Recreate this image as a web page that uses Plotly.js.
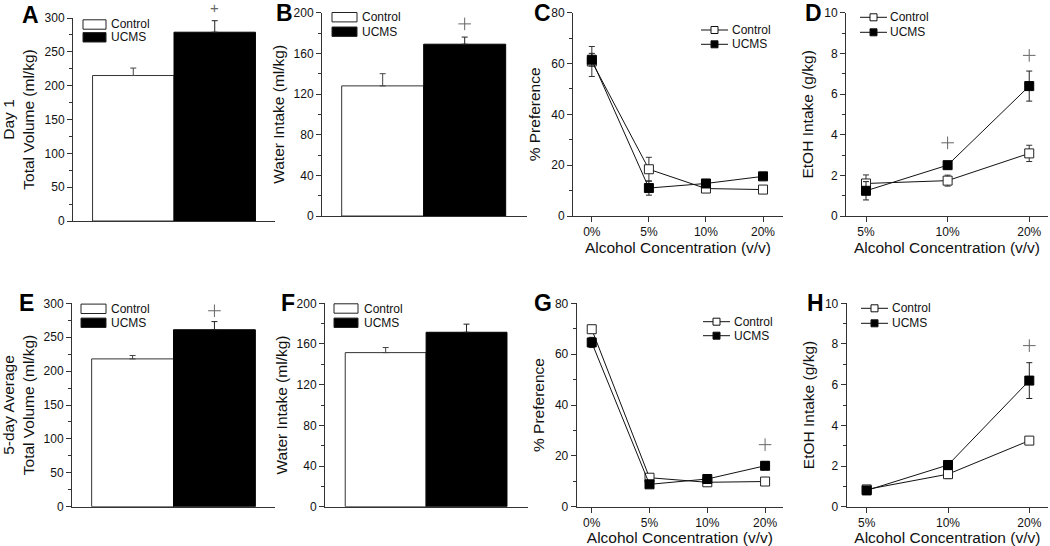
<!DOCTYPE html>
<html>
<head>
<meta charset="utf-8">
<script src="https://cdn.plot.ly/plotly-3.0.1.min.js"></script>
<style>html,body{margin:0;padding:0;background:#fff;}#chart{width:1050px;height:546px;}</style>
</head>
<body>
<div id="chart"></div>
<script>
// ---------- data ----------
const groups = ['Control', 'UCMS'];
const concPref = ['0%', '5%', '10%', '20%'];
const concEtoh = ['5%', '10%', '20%'];

// Day 1
const day1TotalVolume = [215, 279];
const day1TotalVolumeErr = [11, 17];
const day1WaterIntake = [128, 169];
const day1WaterIntakeErr = [12, 7];
const day1PrefControl = [60.8, 18.4, 10.8, 10.4];
const day1PrefControlErr = [5.9, 4.7, 1.5, 1.2];
const day1PrefUCMS = [61.5, 11.0, 12.8, 15.6];
const day1PrefUCMSErr = [2.5, 2.8, 1.2, 1.0];
const day1EtohControl = [1.60, 1.74, 3.08];
const day1EtohControlErr = [0.42, 0.27, 0.40];
const day1EtohUCMS = [1.24, 2.50, 6.39];
const day1EtohUCMSErr = [0.45, 0.15, 0.74];

// 5-day average
const avgTotalVolume = [218, 261];
const avgTotalVolumeErr = [5, 12];
const avgWaterIntake = [151.5, 171.5];
const avgWaterIntakeErr = [5, 8];
const avgPrefControl = [69.8, 11.4, 9.6, 9.9];
const avgPrefControlErr = [1.5, 1.0, 1.0, 1.5];
const avgPrefUCMS = [64.6, 8.8, 10.9, 16.1];
const avgPrefUCMSErr = [2.0, 1.2, 1.2, 1.5];
const avgEtohControl = [0.85, 1.60, 3.25];
const avgEtohControlErr = [0.15, 0.22, 0.15];
const avgEtohUCMS = [0.80, 2.05, 6.20];
const avgEtohUCMSErr = [0.15, 0.12, 0.88];

// significance marks (+)
const sigA_x = ['UCMS'], sigA_y = [316];
const sigB_x = ['UCMS'], sigB_y = [189];
const sigD_x = ['10%', '20%'], sigD_y = [3.6, 7.9];
const sigE_x = ['UCMS'], sigE_y = [289];
const sigG_x = ['20%'], sigG_y = [24.4];
const sigH_x = ['20%'], sigH_y = [7.92];

const panelLetters = ['A', 'B', 'C', 'D', 'E', 'F', 'G', 'H'];

// ---------- styling / layout ----------
const W = 1050, H = 546;
const FONT = 'Liberation Sans, Arial, sans-serif';
const AX = '#333';
const px = (a, b) => [a / W, b / W];
const py = (top, bot) => [1 - bot / H, 1 - top / H];

// leg: [glyph left, glyph right, text left, row1 centre y, row2 centre y] in pixels
const panels = [
  {kind: 'bar', xd: px(73, 275), yd: py(18, 221), xr: [-0.74, 1.74], yr: [0, 300], dt: 50, mdt: 25,
   vals: day1TotalVolume, errs: day1TotalVolumeErr, sx: sigA_x, sy: sigA_y,
   title: 'Day 1<br>Total Volume (ml/kg)', standoff: 8, leg: [83, 106, 109, 24.5, 37.3], letter: [30, 15]},
  {kind: 'bar', xd: px(322, 527), yd: py(12.7, 216), xr: [-0.74, 1.76], yr: [0, 200], dt: 40, mdt: 20,
   vals: day1WaterIntake, errs: day1WaterIntakeErr, sx: sigB_x, sy: sigB_y,
   title: 'Water Intake (ml/kg)', standoff: 5, leg: [332, 357, 359.5, 17.2, 31.7], letter: [284, 13]},
  {kind: 'line', cats: concPref, xd: px(573, 783), yd: py(12.7, 216), xr: [-0.33, 3.35], yr: [0, 80], dt: 20, mdt: 10,
   c: day1PrefControl, ce: day1PrefControlErr, u: day1PrefUCMS, ue: day1PrefUCMSErr, sx: [], sy: [],
   title: '% Preference', standoff: 6, leg: [701, 728, 729.5, 30, 44.3], letter: [542, 13]},
  {kind: 'line', cats: concEtoh, xd: px(846, 1048), yd: py(12.7, 216), xr: [-0.245, 2.23], yr: [0, 10], dt: 2, mdt: 1,
   c: day1EtohControl, ce: day1EtohControlErr, u: day1EtohUCMS, ue: day1EtohUCMSErr, sx: sigD_x, sy: sigD_y,
   title: 'EtOH Intake (g/kg)', standoff: 6, leg: [860, 887, 888, 17.3, 32.3], letter: [813, 13]},
  {kind: 'bar', xd: px(72, 275), yd: py(303.3, 506.7), xr: [-0.74, 1.74], yr: [0, 300], dt: 50, mdt: 25,
   vals: avgTotalVolume, errs: avgTotalVolumeErr, sx: sigE_x, sy: sigE_y,
   title: '5-day Average<br>Total Volume (ml/kg)', standoff: 8, leg: [81, 106, 108.5, 308.8, 322.8], letter: [26, 303]},
  {kind: 'bar', xd: px(325, 528), yd: py(303.3, 506.7), xr: [-0.75, 1.76], yr: [0, 200], dt: 40, mdt: 20,
   vals: avgWaterIntake, errs: avgWaterIntakeErr, sx: [], sy: [],
   title: 'Water Intake (ml/kg)', standoff: 5, leg: [334, 358, 362, 308.5, 322.8], letter: [288, 303]},
  {kind: 'line', cats: concPref, xd: px(576.7, 783), yd: py(303.3, 506.7), xr: [-0.26, 3.31], yr: [0, 80], dt: 20, mdt: 10,
   c: avgPrefControl, ce: avgPrefControlErr, u: avgPrefUCMS, ue: avgPrefUCMSErr, sx: sigG_x, sy: sigG_y,
   title: '% Preference', standoff: 6, leg: [703, 730, 731.5, 321.7, 335.7], letter: [543, 303]},
  {kind: 'line', cats: concEtoh, xd: px(846.7, 1048), yd: py(303.3, 506.7), xr: [-0.246, 2.23], yr: [0, 10], dt: 2, mdt: 1,
   c: avgEtohControl, ce: avgEtohControlErr, u: avgEtohUCMS, ue: avgEtohUCMSErr, sx: sigH_x, sy: sigH_y,
   title: 'EtOH Intake (g/kg)', standoff: 6, leg: [861, 888, 889.5, 308.3, 323.3], letter: [815, 303]}
];

const data = [];
const layout = {
  width: W, height: H,
  margin: {l: 0, r: 0, t: 0, b: 0},
  paper_bgcolor: '#fff', plot_bgcolor: '#fff',
  font: {family: FONT, size: 12, color: '#111'},
  barmode: 'overlay',
  annotations: [],
  shapes: [],
  showlegend: false
};

const fx = v => v / W;
const fy = v => 1 - v / H;

panels.forEach((p, i) => {
  const n = i + 1;
  const xs = n === 1 ? '' : String(n);
  const xa = 'x' + xs, ya = 'y' + xs;

  if (p.kind === 'bar') {
    data.push({
      type: 'bar', x: [groups[0]], y: [p.vals[0]], width: 1, name: groups[0],
      xaxis: xa, yaxis: ya,
      marker: {color: '#fff', line: {color: AX, width: 1}},
      error_y: {type: 'data', array: [p.errs[0]], arrayminus: [0], symmetric: false, color: '#444', thickness: 1, width: 3},
      hoverinfo: 'skip'
    });
    data.push({
      type: 'bar', x: [groups[1]], y: [p.vals[1]], width: 1, name: groups[1],
      xaxis: xa, yaxis: ya,
      marker: {color: '#000', line: {color: '#000', width: 1}},
      error_y: {type: 'data', array: [p.errs[1]], arrayminus: [0], symmetric: false, color: '#222', thickness: 1, width: 3},
      hoverinfo: 'skip'
    });
  } else {
    data.push({
      type: 'scatter', mode: 'lines+markers', x: p.cats, y: p.c, name: groups[0],
      xaxis: xa, yaxis: ya,
      line: {color: '#111', width: 1},
      marker: {symbol: 'square', size: 9, color: '#fff', line: {color: '#222', width: 1}},
      error_y: {type: 'data', array: p.ce, color: '#333', thickness: 1, width: 3},
      hoverinfo: 'skip'
    });
    data.push({
      type: 'scatter', mode: 'lines+markers', x: p.cats, y: p.u, name: groups[1],
      xaxis: xa, yaxis: ya,
      line: {color: '#111', width: 1},
      marker: {symbol: 'square', size: 9, color: '#000', line: {color: '#000', width: 1}},
      error_y: {type: 'data', array: p.ue, color: '#222', thickness: 1, width: 3},
      hoverinfo: 'skip'
    });
  }

  // significance marks: markers when inside the axis range, text annotation when above it
  const inX = [], inY = [];
  p.sx.forEach((sx, k) => {
    const sy = p.sy[k];
    if (sy <= p.yr[1]) { inX.push(sx); inY.push(sy); }
    else {
      layout.annotations.push({
        text: '+', xref: xa, yref: ya + ' domain', x: sx, y: (sy - p.yr[0]) / (p.yr[1] - p.yr[0]),
        xanchor: 'center', yanchor: 'middle', showarrow: false,
        font: {family: FONT, size: 15, color: '#666'}
      });
    }
  });
  if (inX.length) {
    data.push({
      type: 'scatter', mode: 'markers', x: inX, y: inY, xaxis: xa, yaxis: ya,
      showlegend: false, cliponaxis: false, hoverinfo: 'skip',
      marker: {symbol: 'cross-thin', size: 9, color: '#666', line: {color: '#666', width: 1}}
    });
  }

  const xaxis = {
    domain: p.xd, anchor: ya, range: p.xr,
    showline: true, linecolor: AX, linewidth: 1,
    showgrid: false, zeroline: false, fixedrange: true,
    tickfont: {family: FONT, size: 12, color: '#111'}
  };
  if (p.kind === 'bar') {
    Object.assign(xaxis, {type: 'category', categoryorder: 'array', categoryarray: groups,
      showticklabels: false, ticks: ''});
  } else {
    Object.assign(xaxis, {type: 'category', categoryorder: 'array', categoryarray: p.cats,
      ticks: 'outside', ticklen: 5, tickcolor: AX, tickwidth: 1,
      title: {text: 'Alcohol Concentration (v/v)', font: {family: FONT, size: 15.5, color: '#111'}, standoff: 3}});
  }
  const yaxis = {
    domain: p.yd, anchor: xa, range: p.yr, tick0: 0, dtick: p.dt,
    showline: true, linecolor: AX, linewidth: 1,
    showgrid: false, zeroline: false, fixedrange: true,
    ticks: 'outside', ticklen: 5, tickcolor: AX, tickwidth: 1,
    minor: {dtick: p.mdt, ticks: 'outside', ticklen: 3, tickcolor: AX, showgrid: false},
    tickfont: {family: FONT, size: 12, color: '#111'},
    title: {text: p.title, font: {family: FONT, size: 15.5, color: '#111'}, standoff: p.standoff}
  };
  layout['xaxis' + xs] = xaxis;
  layout['yaxis' + xs] = yaxis;

  // legend (drawn as paper shapes + text to match the compact original layout)
  const [g0, g1, tx, r1, r2] = p.leg;
  const rows = [r1, r2];
  groups.forEach((g, k) => {
    const fill = k === 0 ? '#fff' : '#000';
    const yc = rows[k];
    if (p.kind === 'bar') {
      layout.shapes.push({type: 'rect', xref: 'paper', yref: 'paper',
        x0: fx(g0), x1: fx(g1), y0: fy(yc - 4.7), y1: fy(yc + 4.7),
        fillcolor: fill, line: {color: '#222', width: 1}});
    } else {
      layout.shapes.push({type: 'line', xref: 'paper', yref: 'paper',
        x0: fx(g0), x1: fx(g1), y0: fy(yc), y1: fy(yc), line: {color: '#111', width: 1}});
      const cx = (g0 + g1) / 2;
      layout.shapes.push({type: 'rect', xref: 'paper', yref: 'paper',
        x0: fx(cx - 3.5), x1: fx(cx + 3.5), y0: fy(yc - 3.5), y1: fy(yc + 3.5),
        fillcolor: fill, line: {color: '#111', width: 1}});
    }
    layout.annotations.push({
      text: g, xref: 'paper', yref: 'paper', x: fx(tx), y: fy(yc),
      xanchor: 'left', yanchor: 'middle', showarrow: false,
      font: {family: FONT, size: 12, color: '#111'}
    });
  });

  layout.annotations.push({
    text: '<b>' + panelLetters[i] + '</b>', xref: 'paper', yref: 'paper',
    x: fx(p.letter[0]), y: fy(p.letter[1]), xanchor: 'center', yanchor: 'middle',
    showarrow: false, font: {family: FONT, size: 23, color: '#000'}
  });
});

Plotly.newPlot('chart', data, layout, {staticPlot: true, displayModeBar: false});
</script>
</body>
</html>
